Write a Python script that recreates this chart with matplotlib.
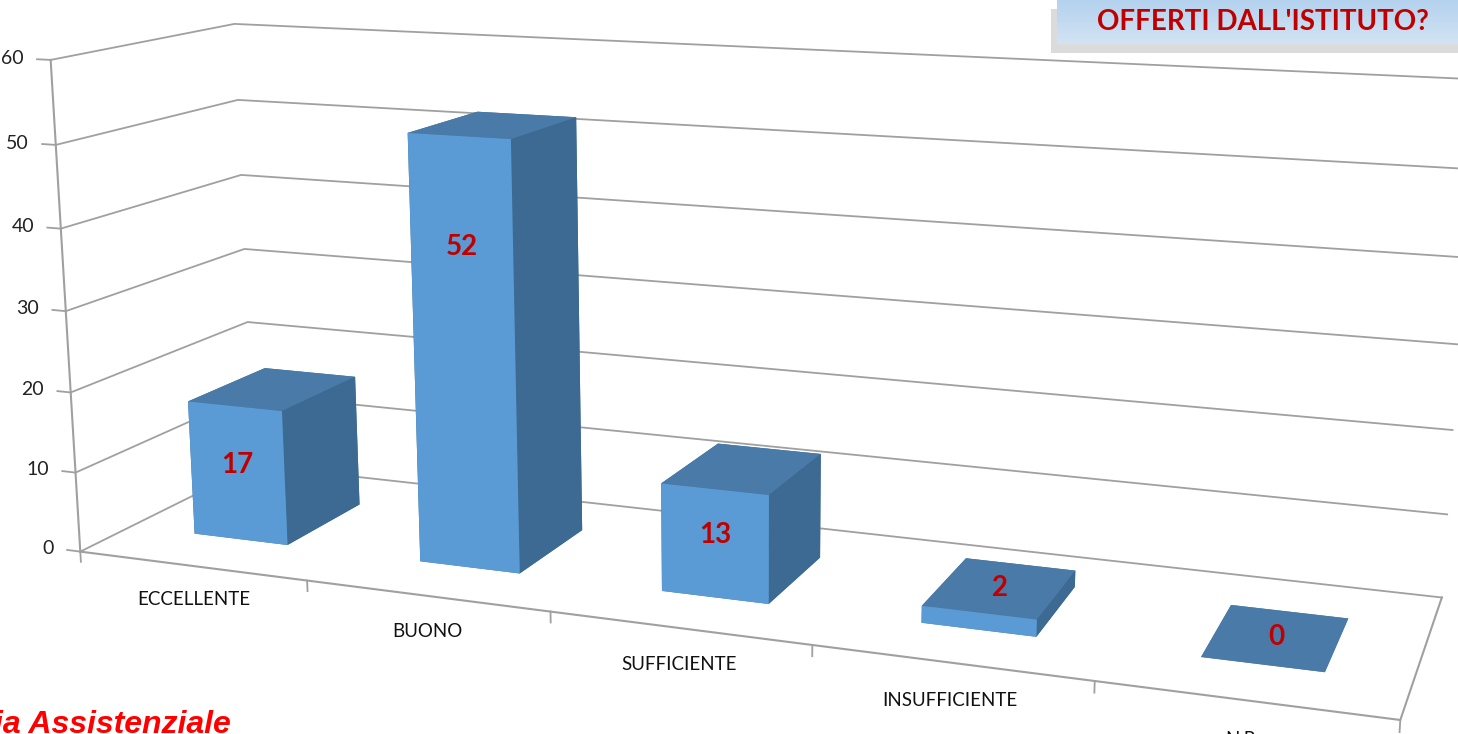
import numpy as np
import matplotlib.pyplot as plt
from matplotlib.patches import Rectangle
from matplotlib.colors import LinearSegmentedColormap

# data
categories = ["ECCELLENTE", "BUONO", "SUFFICIENTE", "INSUFFICIENTE", "N.R."]
values = [17, 52, 13, 2, 0]
z_ticks = [0, 10, 20, 30, 40, 50, 60]
title_text = "OFFERTI DALL'ISTITUTO?"
footer_text = "ia Assistenziale"

front_col = "#5B9BD5"
top_col = "#4A7BA8"
side_col = "#3C6A93"
grid_col = "#A0A0A0"
label_col = "#C00000"

plt.rcParams['font.family'] = ['Lato', 'DejaVu Sans']

fig = plt.figure(figsize=(14.58, 7.34), dpi=100)
# 3d axes are forced square, so make the square wider than the figure
scale = 1.095
sq = scale * 1458 / 734
ax = fig.add_axes([(1 - scale) / 2 - 8 / 1458, (1 - sq) / 2 + 0.007 + 13 / 734, scale, sq],
                  projection='3d')
ax.set_proj_type('persp', focal_length=0.30)
ax.view_init(elev=13, azim=-69.5)
ax.set_box_aspect((4.58, 1.18, 1.75), zoom=0.907)

n = len(categories)
x0, x1 = -0.5, n - 0.5
y0, y1 = 0.0, 1.0
ax.set_xlim(x0, x1)
ax.set_ylim(y0, y1)
ax.set_zlim(0, 60)
ax.set_axis_off()
ax.computed_zorder = False

# gridlines on left wall and back wall
for z in z_ticks:
    ax.plot([x0, x0, x1], [y0, y1, y1], [z, z, z], color=grid_col, lw=1.3, zorder=1)
    ax.plot([x0 - 0.06, x0], [y0, y0], [z, z], color=grid_col, lw=1.3, zorder=1)
    ax.text(x0 - 0.12, y0, z, str(z), ha='right', va='center', fontsize=14, color='#222222')

# floor outline and value axis
ax.plot([x0, x1, x1], [y0, y0, y1], [0, 0, 0], color=grid_col, lw=1.5, zorder=1)
ax.plot([x0, x0], [y0, y0], [0, max(z_ticks)], color=grid_col, lw=1.5, zorder=1)
for b in np.arange(x0, x1 + 0.01, 1.0):
    ax.plot([b, b], [y0, y0], [0, -1.3], color=grid_col, lw=1.3, zorder=1)

for i, cat in enumerate(categories):
    ax.text(i, y0, -4.3, cat, ha='center', va='center', fontsize=13.5, color='#111111')

# bars
w, d = 0.42, 0.45
xs = np.arange(n) - w / 2
ys = np.full(n, 0.5 - d / 2)
face_cols = []
for v in values:
    face_cols += [top_col, top_col, front_col, side_col, side_col, side_col]
ax.bar3d(xs, ys, np.zeros(n), w, d, values, color=face_cols, shade=False,
         edgecolor='none', zorder=3)

for i, v in enumerate(values):
    if v < 5:
        ax.text(i, 0.5, v, str(v), ha='center', va='center', fontsize=20,
                fontweight='bold', color=label_col, zorder=5)
    else:
        lz = v * 0.75 if v > 30 else v / 2 + 1
        ax.text(i, ys[i], lz, str(v), ha='center', va='center', fontsize=20,
                fontweight='bold', color=label_col, zorder=5)

for art in ax.lines + ax.collections + ax.texts:
    art.set_clip_on(False)

# title box cut at the top right
bx, by, bw, bh = 1057 / 1458, 1 - 44 / 734, 420 / 1458, 44 / 734
fig.patches.append(Rectangle((bx - 0.004, by - 0.012), bw, bh, transform=fig.transFigure,
                             facecolor='#9A9A9A', alpha=0.35, edgecolor='none', zorder=8))
tax = fig.add_axes([bx, by, bw, bh], zorder=9)
grad = np.linspace(0, 1, 50).reshape(-1, 1)
tax.imshow(grad, aspect='auto', extent=[0, 1, 0, 1],
           cmap=LinearSegmentedColormap.from_list('g', ['#B4D2EE', '#D2E3F3']))
tax.set_axis_off()
tax.text(0.49, 0.5, title_text, ha='center', va='center', fontsize=20,
         fontweight='bold', color=label_col, transform=tax.transAxes)

fig.text(-0.004, 1 - 710 / 734, footer_text, ha='left', va='top', fontsize=23,
         fontweight='bold', fontstyle='italic', color='#FF0000',
         family=['Liberation Sans', 'DejaVu Sans'])

fig.savefig('out.png', dpi=100)
